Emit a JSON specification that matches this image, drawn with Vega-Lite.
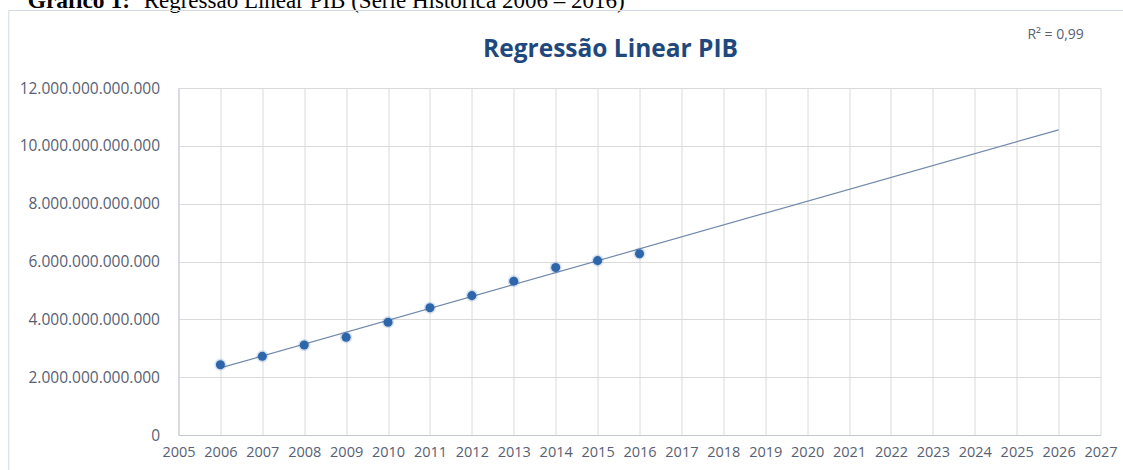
{
  "$schema": "https://vega.github.io/schema/vega-lite/v6.json",
  "width": 922,
  "height": 347,
  "autosize": {"type": "none"},
  "padding": {"left": 178.5, "top": 88, "right": 22.5, "bottom": 35},
  "background": "white",
  "config": {
    "locale": {"number": {"decimal": ",", "thousands": ".", "grouping": [3], "currency": ["R$ ", ""]}},
    "view": {"stroke": null},
    "font": "Open Sans",
    "axis": {
      "labelFont": "Open Sans",
      "labelFontSize": 14.5,
      "labelColor": "#586173",
      "grid": true,
      "gridColor": "#dadada",
      "gridWidth": 1,
      "domainColor": "#c3c8d0",
      "ticks": false,
      "title": null
    }
  },
  "title": {
    "text": "Regressão Linear PIB",
    "font": "Open Sans",
    "fontSize": 24.5,
    "fontWeight": "bold",
    "color": "#1F497D",
    "anchor": "middle",
    "baseline": "alphabetic",
    "dx": -29,
    "dy": 92,
    "offset": 0
  },
  "data": {
    "values": [
      {"ano": 2006, "pib": 2430000000000},
      {"ano": 2007, "pib": 2720000000000},
      {"ano": 2008, "pib": 3110000000000},
      {"ano": 2009, "pib": 3380000000000},
      {"ano": 2010, "pib": 3900000000000},
      {"ano": 2011, "pib": 4400000000000},
      {"ano": 2012, "pib": 4820000000000},
      {"ano": 2013, "pib": 5320000000000},
      {"ano": 2014, "pib": 5790000000000},
      {"ano": 2015, "pib": 6030000000000},
      {"ano": 2016, "pib": 6270000000000}
    ]
  },
  "layer": [
    {
      "transform": [
        {"regression": "pib", "on": "ano", "method": "linear", "extent": [2006, 2026]}
      ],
      "mark": {"type": "line", "color": "#7189AC", "strokeWidth": 1.2},
      "encoding": {
        "x": {
          "field": "ano",
          "type": "quantitative",
          "scale": {"domain": [2005, 2027], "nice": false, "zero": false},
          "axis": {
            "values": [2005, 2006, 2007, 2008, 2009, 2010, 2011, 2012, 2013, 2014, 2015, 2016, 2017, 2018, 2019, 2020, 2021, 2022, 2023, 2024, 2025, 2026, 2027],
            "format": "d",
            "grid": true,
            "labelPadding": 10,
            "labelFlush": false,
            "labelOverlap": false
          }
        },
        "y": {
          "field": "pib",
          "type": "quantitative",
          "scale": {"domain": [0, 12000000000000], "nice": false},
          "axis": {
            "values": [0, 2000000000000, 4000000000000, 6000000000000, 8000000000000, 10000000000000, 12000000000000],
            "format": ",.0f",
            "grid": true,
            "labelFontSize": 15.5,
            "labelPadding": 19
          }
        }
      }
    },
    {
      "mark": {"type": "circle", "color": "#2E66AC", "opacity": 0.18, "size": 150},
      "encoding": {
        "x": {"field": "ano", "type": "quantitative"},
        "y": {"field": "pib", "type": "quantitative"}
      }
    },
    {
      "mark": {"type": "circle", "color": "#2E66AC", "opacity": 1, "size": 82},
      "encoding": {
        "x": {"field": "ano", "type": "quantitative"},
        "y": {"field": "pib", "type": "quantitative"}
      }
    },
    {
      "data": {"values": [{"rotulo": "R² = 0,99"}]},
      "mark": {"type": "text", "font": "Open Sans", "fontSize": 14, "color": "#586173", "align": "center", "baseline": "alphabetic"},
      "encoding": {
        "x": {"datum": 2025.93, "type": "quantitative"},
        "y": {"datum": 13690000000000, "type": "quantitative"},
        "text": {"field": "rotulo"}
      }
    },
    {
      "data": {"values": [{"legenda": "Gráfico 1:"}]},
      "mark": {"type": "text", "font": "Liberation Serif", "fontSize": 23.5, "fontWeight": "bold", "color": "#000000", "align": "left", "baseline": "alphabetic"},
      "encoding": {
        "x": {"datum": 2001.4, "type": "quantitative"},
        "y": {"datum": 14750000000000, "type": "quantitative"},
        "text": {"field": "legenda"}
      }
    },
    {
      "data": {"values": [{"legenda": "Regressão Linear PIB (Série Histórica 2006 – 2016)"}]},
      "mark": {"type": "text", "font": "Liberation Serif", "fontSize": 23, "color": "#000000", "align": "left", "baseline": "alphabetic", "dx": 116},
      "encoding": {
        "x": {"datum": 2001.4, "type": "quantitative"},
        "y": {"datum": 14750000000000, "type": "quantitative"},
        "text": {"field": "legenda"}
      }
    },
    {
      "data": {"values": [{"moldura": "área do gráfico"}]},
      "mark": {"type": "rect", "fill": null, "stroke": "#d3d9e3", "strokeWidth": 1},
      "encoding": {
        "x": {"datum": 2000.95, "type": "quantitative"},
        "x2": {"datum": 2029},
        "y": {"datum": 14680000000000, "type": "quantitative"},
        "y2": {"datum": -2000000000000}
      }
    }
  ]
}
